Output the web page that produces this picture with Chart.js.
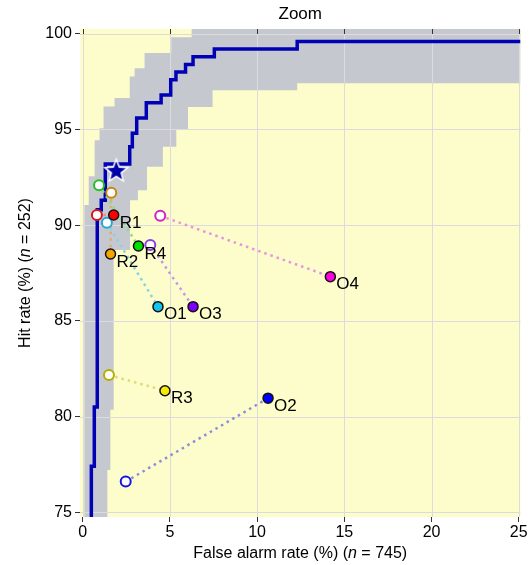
<!DOCTYPE html>
<html>
<head>
<meta charset="utf-8">
<script src="https://cdn.jsdelivr.net/npm/chart.js@4.4.1/dist/chart.umd.min.js"></script>
<style>
  html, body { margin: 0; padding: 0; background: #fff; }
</style>
</head>
<body>
<canvas id="roc" width="531" height="565"></canvas>
<script>
// axis ticks
const X_TICKS = [0, 5, 10, 15, 20, 25];
const Y_TICKS = [75, 80, 85, 90, 95, 100];

// ROC step curve (vertical at each FA up to HIT)
const CURVE_FA  = [0.5, 0.5, 0.67, 0.84, 1.07, 1.3, 2.7, 2.85, 3.1, 3.65, 4.5, 5.05, 5.35, 5.9, 6.33, 7.55, 12.3, 25.1];
const CURVE_HIT = [74.75, 77.4, 80.5, 90.8, 91.3, 93.2, 94.1, 94.8, 95.6, 96.4, 96.8, 97.6, 98.0, 98.4, 98.8, 99.2, 99.6, 99.6];

// confidence band, left/upper edge and right/lower edge
const BAND_LEFT_FA   = [0.1, 0.1, 0.35, 0.69, 0.97, 1.2, 1.83, 2.7, 2.98, 3.55, 5.08, 6.25, 25.1];
const BAND_LEFT_HIT  = [74.75, 91.05, 92.56, 94.44, 95.07, 96.2, 96.64, 97.77, 98.2, 98.99, 99.82, 100.25, 100.25];
const BAND_RIGHT_FA  = [1.42, 1.42, 1.59, 1.78, 2.72, 3.17, 3.69, 4.6, 5.37, 6.04, 7.45, 12.3, 25.1];
const BAND_RIGHT_HIT = [74.75, 77.2, 80.35, 88.7, 91.3, 91.83, 93.05, 94.1, 94.97, 96.17, 97.05, 97.42, 97.42];

// readers: labelled (filled) and paired (open) points
const LABELS     = ["R1", "R2", "R3", "R4", "O1", "O2", "O3", "O4"];
const FILLED_FA  = [1.78, 1.6, 4.72, 3.2, 4.32, 10.63, 6.33, 14.2];
const FILLED_HIT = [90.53, 88.49, 81.35, 88.91, 85.74, 80.96, 85.74, 87.31];
const OPEN_FA    = [0.82, 1.64, 1.51, 0.94, 1.39, 2.47, 3.88, 4.45];
const OPEN_HIT   = [90.53, 91.69, 82.17, 92.09, 90.13, 76.6, 88.96, 90.49];

// operating point (star)
const STAR_FA = [1.93];
const STAR_HIT = [92.84];

// styles
const FILL_COLORS = ["#ff0000", "#f5a300", "#f5eb00", "#00e000", "#14c4f0", "#0000ff", "#7f00ff", "#ff00e0"];
const OPEN_COLORS = ["#d81818", "#c8860a", "#b5ad00", "#22c022", "#22a8d8", "#1414e0", "#8a3de0", "#d020c8"];
const DOT_COLORS  = ["#f08a8a", "#d8b070", "#dcdc78", "#86e086", "#86d2e6", "#8c8cdc", "#c496ee", "#e894e0"];
const FONT = '"Liberation Sans", Arial, Helvetica, sans-serif';
const YELLOW = "#fdfdcc";
const GRAY = "#c6c8cf";
const GRID = "#dcdcdc";

function expandSteps(xs, ys) {
  const pts = [{ x: xs[0], y: ys[0] }];
  for (let i = 1; i < xs.length; i++) {
    pts.push({ x: xs[i], y: ys[i - 1] });
    pts.push({ x: xs[i], y: ys[i] });
  }
  return pts;
}

const bandPoints = expandSteps(BAND_LEFT_FA, BAND_LEFT_HIT)
  .concat(expandSteps(BAND_RIGHT_FA, BAND_RIGHT_HIT).reverse());
const curvePoints = expandSteps(CURVE_FA, CURVE_HIT);

// star marker image
function makeStar() {
  const c = document.createElement("canvas");
  c.width = 30; c.height = 30;
  const g = c.getContext("2d");
  g.beginPath();
  for (let i = 0; i < 10; i++) {
    const r = i % 2 === 0 ? 12 : 5.2;
    const a = -Math.PI / 2 + i * Math.PI / 5;
    const px = 15 + r * Math.cos(a), py = 15.5 + r * Math.sin(a);
    if (i === 0) g.moveTo(px, py); else g.lineTo(px, py);
  }
  g.closePath();
  g.fillStyle = "#0000a8";
  g.fill();
  g.lineWidth = 1.5;
  g.strokeStyle = "#ffffff";
  g.stroke();
  return c;
}

const datasets = [];
datasets.push({
  id: "band", data: bandPoints, showLine: true, fill: "shape",
  backgroundColor: GRAY, borderWidth: 0, pointRadius: 0, order: 10
});
datasets.push({
  data: curvePoints, showLine: true, fill: false,
  borderColor: "#0000b4", borderWidth: 3.5, pointRadius: 0, order: 8
});
LABELS.forEach((lab, i) => {
  datasets.push({
    data: [{ x: OPEN_FA[i], y: OPEN_HIT[i] }, { x: FILLED_FA[i], y: FILLED_HIT[i] }],
    showLine: true, fill: false, borderColor: DOT_COLORS[i], borderWidth: 2.5,
    borderDash: [2.5, 4], pointRadius: 0, order: 6
  });
});
datasets.push({
  data: OPEN_FA.map((x, i) => ({ x, y: OPEN_HIT[i] })),
  pointRadius: 5, pointBorderWidth: 2,
  pointBackgroundColor: "#ffffff", pointBorderColor: OPEN_COLORS, order: 4
});
datasets.push({
  id: "filled",
  data: FILLED_FA.map((x, i) => ({ x, y: FILLED_HIT[i] })),
  pointRadius: 5, pointBorderWidth: 1.5,
  pointBackgroundColor: FILL_COLORS, pointBorderColor: "#111111", order: 3
});
datasets.push({
  data: STAR_FA.map((x, i) => ({ x, y: STAR_HIT[i] })),
  pointStyle: makeStar(), order: 2
});

function drawRich(ctx, parts, cx, cy, rotate) {
  ctx.save();
  ctx.translate(cx, cy);
  if (rotate) ctx.rotate(-Math.PI / 2);
  let total = 0;
  parts.forEach(p => { ctx.font = p[1] + " 16px " + FONT; total += ctx.measureText(p[0]).width; });
  let x = -total / 2;
  ctx.fillStyle = "#000";
  ctx.textBaseline = "middle";
  ctx.textAlign = "left";
  parts.forEach(p => {
    ctx.font = p[1] + " 16px " + FONT;
    ctx.fillText(p[0], x, 0);
    x += ctx.measureText(p[0]).width;
  });
  ctx.restore();
}

const decor = {
  id: "decor",
  beforeDatasetsDraw(chart) {
    const a = chart.chartArea, ctx = chart.ctx;
    ctx.save();
    ctx.fillStyle = YELLOW;
    ctx.fillRect(a.left, a.top, a.right - a.left, a.bottom - a.top);
    ctx.restore();
  },
  afterDatasetDraw(chart, args) {
    if (chart.data.datasets[args.index].id !== "band") return;
    const a = chart.chartArea, ctx = chart.ctx;
    const xs = chart.scales.x, ys = chart.scales.y;
    ctx.save();
    ctx.strokeStyle = GRID;
    ctx.lineWidth = 1;
    ctx.beginPath();
    X_TICKS.forEach(v => {
      const p = Math.round(xs.getPixelForValue(v)) + 0.5;
      ctx.moveTo(p, a.top); ctx.lineTo(p, a.bottom);
    });
    Y_TICKS.forEach(v => {
      const p = Math.round(ys.getPixelForValue(v)) + 0.5;
      ctx.moveTo(a.left, p); ctx.lineTo(a.right, p);
    });
    ctx.stroke();
    // small inward ticks on the top edge
    ctx.strokeStyle = "#333";
    ctx.beginPath();
    X_TICKS.forEach(v => {
      const p = Math.round(xs.getPixelForValue(v)) + 0.5;
      ctx.moveTo(p, a.top); ctx.lineTo(p, a.top + 5);
    });
    ctx.stroke();
    ctx.restore();
  },
  afterDatasetsDraw(chart) {
    const ctx = chart.ctx;
    const idx = chart.data.datasets.findIndex(d => d.id === "filled");
    const meta = chart.getDatasetMeta(idx);
    ctx.save();
    ctx.font = "17px " + FONT;
    ctx.fillStyle = "#000";
    ctx.textBaseline = "middle";
    ctx.textAlign = "left";
    meta.data.forEach((pt, i) => {
      ctx.fillText(LABELS[i], pt.x + 6, pt.y + 8);
    });
    ctx.restore();
  },
  afterDraw(chart) {
    const a = chart.chartArea, ctx = chart.ctx;
    ctx.save();
    ctx.font = "17px " + FONT;
    ctx.fillStyle = "#000";
    ctx.textAlign = "center";
    ctx.textBaseline = "middle";
    ctx.fillText("Zoom", (a.left + a.right) / 2, 14);
    ctx.restore();
    drawRich(ctx, [["False alarm rate (%) (", "normal"], ["n", "italic"], [" = 745)", "normal"]],
      (a.left + a.right) / 2, 554, false);
    drawRich(ctx, [["Hit rate (%) (", "normal"], ["n", "italic"], [" = 252)", "normal"]],
      26, (a.top + a.bottom) / 2, true);
  }
};

new Chart(document.getElementById("roc"), {
  type: "scatter",
  data: { datasets },
  plugins: [decor],
  options: {
    responsive: false,
    animation: false,
    devicePixelRatio: 1,
    events: [],
    layout: { padding: { top: 29, right: 10.5, left: 0, bottom: 0 } },
    plugins: { legend: { display: false }, tooltip: { enabled: false } },
    scales: {
      x: {
        type: "linear", min: -0.15, max: 25.1,
        afterBuildTicks: s => { s.ticks = X_TICKS.map(v => ({ value: v })); },
        afterFit: s => { s.height = 48; },
        ticks: { font: { family: FONT, size: 16 }, color: "#000", padding: 1, maxRotation: 0, autoSkip: false },
        grid: { drawOnChartArea: false, drawTicks: true, tickLength: 5, tickColor: "#333" },
        border: { display: false }
      },
      y: {
        type: "linear", min: 74.75, max: 100.25,
        afterBuildTicks: s => { s.ticks = Y_TICKS.map(v => ({ value: v })); },
        afterFit: s => { s.width = 80; },
        ticks: { font: { family: FONT, size: 16 }, color: "#000", padding: 3, autoSkip: false },
        grid: { drawOnChartArea: false, drawTicks: true, tickLength: 5, tickColor: "#333" },
        border: { display: false }
      }
    }
  }
});
</script>
</body>
</html>
